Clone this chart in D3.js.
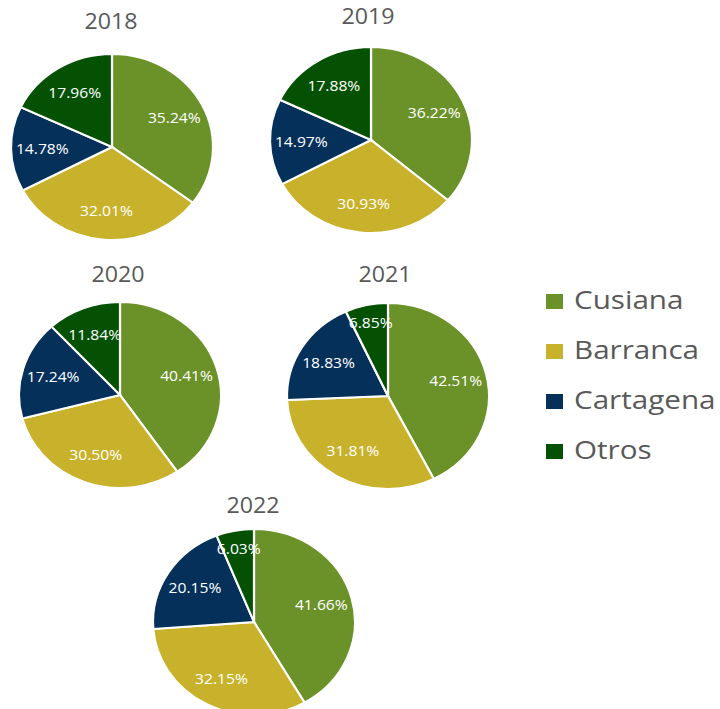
<!DOCTYPE html>
<html>
<head>
<meta charset="utf-8">
<script src="https://cdn.jsdelivr.net/npm/d3@7"></script>
<style>
  html, body { margin: 0; padding: 0; background: #ffffff; }
  svg { display: block; }
</style>
</head>
<body>
<svg id="chart" width="720" height="709"></svg>
<script>
// ---- data ----
const years = ["2018", "2019", "2020", "2021", "2022"];
const categories = ["Cusiana", "Barranca", "Cartagena", "Otros"];
const cusiana   = [35.24, 36.22, 40.41, 42.51, 41.66];
const barranca  = [32.01, 30.93, 30.50, 31.81, 32.15];
const cartagena = [14.78, 14.97, 17.24, 18.83, 20.15];
const otros     = [17.96, 17.88, 11.84, 6.85, 6.03];
const colors = ["#6a9229", "#c9b22b", "#04305a", "#045104"];

// ---- layout (not data) ----
const layout = [
  { cx: 112, cy: 147, tx: 111, ty: 29 },
  { cx: 371, cy: 140, tx: 368, ty: 24 },
  { cx: 120, cy: 395, tx: 118, ty: 282 },
  { cx: 388, cy: 396, tx: 385, ty: 282 },
  { cx: 254, cy: 622, tx: 253, ty: 513 }
];
const rx = 101, ry = 93;
const stretch = 1.08;

const svg = d3.select("#chart");
const color = d3.scaleOrdinal().domain(categories).range(colors);
const pie = d3.pie().sort(null).value(d => d.value);
const arc = d3.arc().innerRadius(0).outerRadius(rx);
const font = "'Open Sans', 'DejaVu Sans', sans-serif";

years.forEach((yr, i) => {
  const vals = [cusiana[i], barranca[i], cartagena[i], otros[i]];
  const rows = categories.map((c, k) => ({ cat: c, value: vals[k] }));
  const arcs = pie(rows);
  const L = layout[i];
  const g = svg.append("g").attr("transform", `translate(${L.cx},${L.cy})`);
  g.append("g").attr("transform", `scale(1,${ry / rx})`)
    .selectAll("path").data(arcs).join("path")
    .attr("d", arc)
    .attr("fill", d => color(d.data.cat))
    .attr("stroke", "#ffffff")
    .attr("stroke-width", 2.2);

  g.selectAll("text.lbl").data(arcs).join("text")
    .attr("class", "lbl")
    .attr("transform", d => {
      const total = d3.sum(rows, r => r.value);
      const f = d.data.value / total < 0.1 ? 0.8 : 0.69;
      const a = (d.startAngle + d.endAngle) / 2;
      const x = Math.sin(a) * rx * f;
      const y = -Math.cos(a) * ry * f;
      return `translate(${x},${y}) scale(${stretch},1)`;
    })
    .attr("dy", "0.35em")
    .attr("text-anchor", "middle")
    .attr("fill", "#ffffff")
    .attr("font-family", font)
    .attr("font-size", 14.5)
    .text(d => d.data.value.toFixed(2) + "%");

  svg.append("text")
    .attr("transform", `translate(${L.tx},${L.ty}) scale(${stretch},1)`)
    .attr("text-anchor", "middle")
    .attr("fill", "#595959")
    .attr("font-family", font)
    .attr("font-size", 21.5)
    .text(yr);
});

// ---- legend ----
const legend = svg.append("g").attr("transform", "translate(546,309)");
const item = legend.selectAll("g").data(categories).join("g")
  .attr("transform", (d, k) => `translate(0,${k * 50})`);
item.append("rect")
  .attr("x", 0).attr("y", -15).attr("width", 17).attr("height", 15)
  .attr("fill", d => color(d));
item.append("text")
  .attr("transform", "translate(28,0) scale(1.14,1)")
  .attr("fill", "#595959")
  .attr("font-family", font)
  .attr("font-size", 26)
  .text(d => d);
</script>
</body>
</html>
